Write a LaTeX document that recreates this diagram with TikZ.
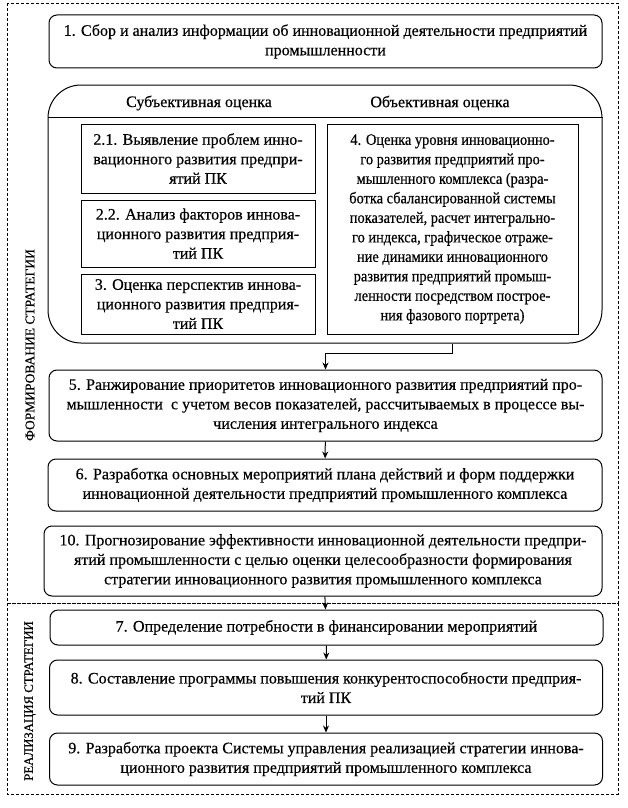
\documentclass[tikz,border=0pt]{standalone}
\usepackage{fontspec}
\setmainfont[FakeBold=0.4]{Liberation Serif}
\newfontfamily\narrowserif[FakeStretch=0.9,FakeBold=0.4]{Liberation Serif}
\usetikzlibrary{arrows.meta}

\begin{document}
\begin{tikzpicture}[x=1pt,y=-1pt,
txt/.style={font=\fontsize{16}{19.5}\selectfont},
stage/.style={txt, draw, line width=1pt, rounded corners=8pt, align=center, inner sep=1pt},
part/.style={txt, draw, line width=0.9pt, align=center, inner sep=1pt},
side/.style={rotate=90},
frame/.style={line width=0.8pt, dash pattern=on 3pt off 2pt},
arr/.style={line width=1pt, -{Stealth[length=7pt,width=6pt]}},
]
\useasboundingbox (0,0) rectangle (627,808);
% dashed frames
\draw[frame] (7,3) rectangle (618,603);
\draw[frame] (7,603) rectangle (618,794);
\node[side, font=\fontsize{13.5}{16}\selectfont] (form) at (30,345) {ФОРМИРОВАНИЕ СТРАТЕГИИ};
\node[side, font=\fontsize{12.8}{16}\selectfont] (real) at (30,701) {РЕАЛИЗАЦИЯ СТРАТЕГИИ};

\node[stage, minimum width=553pt, minimum height=53pt] (s1) at (325.5,41.5)
{1. Сбор и анализ информации об инновационной деятельности предприятий\\промышленности};

% evaluation block
\node[draw, line width=1pt, rounded corners=33pt, minimum width=554pt, minimum height=258pt] (eval) at (325,214) {};
\draw[line width=0.9pt] ([yshift=-33pt]eval.north west) -- ([yshift=-33pt]eval.north east);
\node[txt] (subj) at (199,103) {Субъективная оценка};
\node[txt] (obj) at (440,103) {Объективная оценка};
\node[part, minimum width=234pt, minimum height=69pt] (b21) at (198,158.5)
{2.1. Выявление проблем инно-\\вационного развития предпри-\\ятий ПК};
\node[part, minimum width=234pt, minimum height=67pt] (b22) at (198,233.5)
{2.2. Анализ факторов иннова-\\ционного развития предприя-\\тий ПК};
\node[part, minimum width=234pt, minimum height=60pt] (b3) at (198,304)
{3. Оценка перспектив иннова-\\ционного развития предприя-\\тий ПК};
\node[part, minimum width=251pt, minimum height=210pt, font=\narrowserif\fontsize{16}{19.5}\selectfont] (b4) at (452.5,229)
{4. Оценка уровня инновационно-\\го развития предприятий про-\\мышленного комплекса (разра-\\ботка сбалансированной системы\\показателей, расчет интегрально-\\го индекса, графическое отраже-\\ние динамики инновационного\\развития предприятий промыш-\\ленности посредством построе-\\ния фазового портрета)};

\node[stage, minimum width=553pt, minimum height=71pt] (s5) at (325.5,405.5)
{5. Ранжирование приоритетов инновационного развития предприятий про-\\мышленности~ с учетом весов показателей, рассчитываемых в процессе вы-\\числения интегрального индекса};
\node[stage, minimum width=554pt, minimum height=52pt] (s6) at (325,485)
{6. Разработка основных мероприятий плана действий и форм поддержки\\инновационной деятельности предприятий промышленного комплекса};
\node[stage, minimum width=558pt, minimum height=70pt] (s10) at (323,561)
{10. Прогнозирование эффективности инновационной деятельности предпри-\\ятий промышленности с целью оценки целесообразности формирования\\стратегии инновационного развития промышленного комплекса};
\node[stage, minimum width=553pt, minimum height=35pt] (s7) at (326.5,627.5)
{7. Определение потребности в финансировании мероприятий};
\node[stage, minimum width=553pt, minimum height=55pt] (s8) at (326,687.5)
{8. Составление программы повышения конкурентоспособности предприя-\\тий ПК};
\node[stage, minimum width=553pt, minimum height=52pt] (s9) at (326,759)
{9. Разработка проекта Системы управления реализацией стратегии иннова-\\ционного развития предприятий промышленного комплекса};

\draw[arr] (eval.south -| b4) -- ++(0,10) -| (s5.north);
\draw[arr] (s5) -- (s6);
\draw[arr] (s10) -- (s7);
\draw[arr] (s7) -- (s8);
\draw[arr] (s8) -- (s9);
\end{tikzpicture}
\end{document}
